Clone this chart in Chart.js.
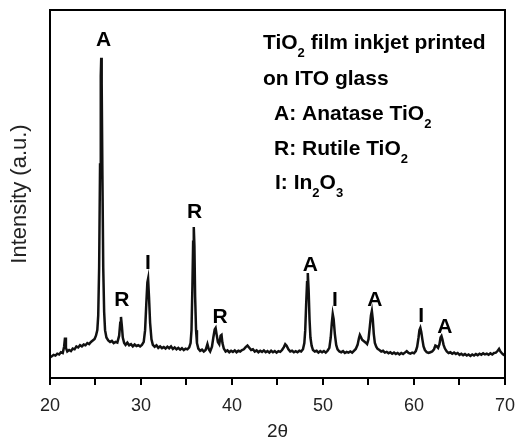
<!DOCTYPE html>
<html>
<head>
<meta charset="utf-8">
<script src="https://cdn.jsdelivr.net/npm/chart.js@4/dist/chart.umd.min.js"></script>
<style>
  html, body { margin: 0; padding: 0; background: #fff; }
  #wrap { width: 525px; height: 441px; }
</style>
</head>
<body>
<div id="wrap"><canvas id="myChart" width="525" height="441"></canvas></div>
<script>
// XRD pattern (2theta, intensity in a.u.)
const twoTheta = [
  20.0, 20.2, 20.4, 20.6, 20.8, 21.0, 21.2, 21.4, 21.55, 21.65, 21.75, 21.9, 22.1, 22.3, 22.5, 22.7, 22.9,
  23.1, 23.3, 23.5, 23.7, 23.9, 24.1, 24.3, 24.5, 24.7, 24.9, 25.05, 25.2, 25.3, 25.4, 25.5, 25.58, 25.63,
  25.68, 25.76, 25.85, 25.95, 26.05, 26.2, 26.4, 26.6, 26.8, 27.0, 27.2, 27.4, 27.6, 27.72, 27.8, 27.9,
  28.0, 28.15, 28.3, 28.5, 28.7, 28.9, 29.1, 29.3, 29.5, 29.7, 29.9, 30.1, 30.3, 30.45, 30.58, 30.7, 30.78,
  30.88, 31.0, 31.15, 31.3, 31.5, 31.7, 31.9, 32.1, 32.3, 32.5, 32.7, 32.9, 33.1, 33.3, 33.5, 33.7, 33.9,
  34.1, 34.3, 34.5, 34.7, 34.9, 35.1, 35.3, 35.45, 35.55, 35.65, 35.73, 35.8, 35.87, 35.95, 36.05, 36.15,
  36.3, 36.5, 36.7, 36.9, 37.1, 37.3, 37.45, 37.6, 37.8, 37.95, 38.1, 38.2, 38.3, 38.45, 38.6, 38.75, 38.85,
  38.95, 39.1, 39.3, 39.5, 39.7, 39.9, 40.1, 40.3, 40.5, 40.7, 40.9, 41.1, 41.3, 41.5, 41.7, 41.9, 42.1,
  42.3, 42.5, 42.7, 42.9, 43.1, 43.3, 43.5, 43.7, 43.9, 44.1, 44.3, 44.5, 44.7, 44.9, 45.1, 45.3, 45.5,
  45.7, 45.85, 46.0, 46.2, 46.4, 46.6, 46.8, 47.0, 47.2, 47.4, 47.6, 47.8, 47.95, 48.05, 48.15, 48.25,
  48.33, 48.42, 48.52, 48.62, 48.75, 48.9, 49.1, 49.3, 49.5, 49.7, 49.9, 50.1, 50.3, 50.5, 50.7, 50.85,
  50.97, 51.07, 51.17, 51.3, 51.45, 51.6, 51.8, 52.0, 52.2, 52.4, 52.6, 52.8, 53.0, 53.2, 53.4, 53.6, 53.8,
  53.95, 54.05, 54.15, 54.3, 54.5, 54.7, 54.85, 55.0, 55.15, 55.27, 55.37, 55.47, 55.58, 55.7, 55.85, 56.0,
  56.2, 56.4, 56.6, 56.8, 57.0, 57.2, 57.4, 57.6, 57.8, 58.0, 58.2, 58.4, 58.6, 58.8, 59.0, 59.2, 59.4,
  59.6, 59.8, 60.0, 60.2, 60.35, 60.5, 60.6, 60.7, 60.8, 60.92, 61.05, 61.2, 61.4, 61.6, 61.8, 62.0, 62.2,
  62.35, 62.5, 62.65, 62.8, 62.92, 63.02, 63.12, 63.25, 63.4, 63.6, 63.8, 64.0, 64.2, 64.4, 64.6, 64.8,
  65.0, 65.2, 65.4, 65.6, 65.8, 66.0, 66.2, 66.4, 66.6, 66.8, 67.0, 67.2, 67.4, 67.6, 67.8, 68.0, 68.2,
  68.4, 68.6, 68.8, 69.0, 69.2, 69.35, 69.5, 69.7, 69.85, 70.0
]
const intensity = [
  5.6, 5.9, 6.3, 6.1, 6.6, 6.4, 7.0, 6.8, 8.5, 11.0, 8.2, 7.2, 7.6, 7.3, 8.0, 7.8, 8.6,
  8.3, 8.9, 8.6, 9.1, 8.9, 9.5, 9.2, 9.8, 10.2, 10.6, 11.5, 13, 17, 30, 58, 82, 87,
  80, 55, 30, 18, 13, 11, 10.2, 9.8, 10.1, 9.5, 9.8, 9.6, 11.5, 15, 16.6, 14,
  11, 9.5, 9.0, 9.6, 8.9, 9.2, 8.6, 9.1, 8.7, 8.9, 8.6, 9.0, 9.8, 13, 20, 26, 27,
  22, 15, 10.5, 9.0, 8.5, 8.9, 8.2, 8.6, 8.1, 8.4, 8.0, 8.5, 8.1, 8.6, 7.9, 8.3, 7.8,
  8.2, 7.7, 8.1, 7.6, 8.0, 7.8, 8.3, 9.5, 13, 25, 37, 41, 36, 22, 13, 9.5,
  8.0, 7.4, 7.7, 7.2, 7.6, 9.2, 7.8, 7.2, 8.5, 11, 13.2, 13.6, 12, 9.8, 9.2, 11.5, 11.7,
  9.5, 8.0, 7.2, 7.5, 7.0, 7.4, 7.1, 7.5, 7.0, 7.4, 7.2, 7.6, 7.8, 8.4, 8.8, 8.2, 7.6,
  7.8, 7.2, 7.5, 7.0, 7.4, 7.1, 7.5, 7.0, 7.3, 6.9, 7.4, 7.0, 7.3, 6.9, 7.3, 7.1, 7.6,
  8.4, 9.2, 8.8, 7.8, 7.2, 7.4, 7.0, 7.3, 7.0, 7.4, 7.2, 7.8, 9.5, 13, 20, 26,
  28.5, 24, 16, 11, 8.8, 7.6, 7.2, 7.4, 6.9, 7.3, 7.0, 7.3, 6.9, 7.4, 8.2, 11,
  15, 17.4, 16, 12, 9, 7.8, 7.2, 7.0, 7.3, 6.8, 7.1, 6.9, 7.2, 6.9, 7.4, 7.9, 9.0,
  10.8, 11.7, 11.2, 10.4, 10.0, 9.6, 9.2, 10.5, 14, 17, 18.2, 16, 12, 9.5, 8.5, 7.9,
  7.6, 7.2, 7.4, 6.9, 7.1, 6.7, 7.0, 6.6, 6.9, 6.5, 6.8, 6.4, 6.8, 6.5, 6.9, 7.3, 6.8,
  6.6, 6.9, 6.7, 7.3, 8.5, 11, 13, 13.6, 12.5, 10.5, 8.6, 7.6, 7.0, 6.8, 7.0, 7.2, 7.8,
  8.8, 8.6, 8.2, 9.2, 11, 11.4, 10.5, 9.0, 8.0, 7.2, 6.8, 7.0, 6.6, 6.9, 6.5, 6.8,
  6.3, 6.6, 6.2, 6.5, 6.1, 6.4, 6.0, 6.4, 6.1, 6.5, 6.2, 6.6, 6.3, 6.7, 6.4, 6.6, 6.3,
  6.7, 6.4, 6.8, 6.9, 7.4, 7.9, 7.2, 6.6, 6.3, 6.4
]

// peak letters and where they sit (2theta, intensity)
const peakLabels = ['A', 'R', 'I', 'R', 'R', 'A', 'I', 'A', 'I', 'A']
const peakX = [25.9, 27.9, 30.75, 35.9, 38.7, 48.6, 51.3, 55.7, 60.8, 63.4]
const peakY = [91.7, 21.2, 31.3, 45.1, 16.6, 30.7, 21.2, 21.2, 16.8, 13.9]

const xTickLabels = ['20', '30', '40', '50', '60', '70']

// legend text, [text, subscript?]
const infoLines = [
  [['TiO', 0], ['2', 1], [' film inkjet printed', 0]],
  [['on ITO glass', 0]],
  [['A: Anatase TiO', 0], ['2', 1]],
  [['R: Rutile TiO', 0], ['2', 1]],
  [['I: In', 0], ['2', 1], ['O', 0], ['3', 1]]
]

const FONT = 'Arial, "Liberation Sans", sans-serif'

const points = twoTheta.map((x, i) => ({ x: x, y: intensity[i] }))

const extras = {
  id: 'extras',
  afterDraw(chart) {
    const ctx = chart.ctx
    const a = chart.chartArea
    const xs = chart.scales.x
    const ys = chart.scales.y
    ctx.save()
    // frame
    ctx.strokeStyle = '#000'
    ctx.lineWidth = 2
    ctx.strokeRect(a.left, a.top, a.right - a.left, a.bottom - a.top)

    // peak letters
    ctx.fillStyle = '#000'
    ctx.font = 'bold 21px ' + FONT
    ctx.textAlign = 'center'
    ctx.textBaseline = 'middle'
    peakLabels.forEach((t, i) => {
      ctx.fillText(t, xs.getPixelForValue(peakX[i]), ys.getPixelForValue(peakY[i]))
    })

    // legend block
    ctx.textAlign = 'left'
    ctx.textBaseline = 'alphabetic'
    const lineX = [263, 263, 274, 274, 275]
    const lineY = [49, 85, 120, 155, 189]
    infoLines.forEach((segs, i) => {
      let x = lineX[i]
      segs.forEach(([txt, sub]) => {
        ctx.font = sub ? 'bold 13px ' + FONT : 'bold 21px ' + FONT
        ctx.fillText(txt, x, lineY[i] + (sub ? 8 : 0))
        x += ctx.measureText(txt).width
      })
    })
    ctx.restore()
  }
}

const config = {
  type: 'line',
  data: {
    datasets: [{
      data: points,
      borderColor: '#111',
      borderWidth: 2.5,
      pointRadius: 0,
      tension: 0,
      fill: false
    }]
  },
  options: {
    responsive: false,
    animation: false,
    layout: { padding: { top: 10, right: 10, bottom: 0, left: 0 } },
    plugins: { legend: { display: false }, tooltip: { enabled: false } },
    scales: {
      x: {
        type: 'linear',
        min: 20,
        max: 70,
        border: { display: false },
        grid: { drawOnChartArea: false, drawTicks: true, tickLength: 7, color: '#000', lineWidth: 2 },
        ticks: {
          stepSize: 5,
          autoSkip: false,
          maxRotation: 0,
          padding: 10,
          color: '#222',
          font: { family: FONT, size: 18 },
          callback: (v) => (v % 10 === 0 ? xTickLabels[(v - 20) / 10] : '')
        },
        title: { display: true, text: '2θ', color: '#222', font: { family: FONT, size: 19, lineHeight: 1 }, padding: { top: 0, bottom: 0 } },
        afterFit: (s) => { s.height = 63 }
      },
      y: {
        min: 0,
        max: 100,
        border: { display: false },
        grid: { display: false },
        ticks: { display: false },
        title: { display: true, text: 'Intensity (a.u.)', color: '#222', font: { family: FONT, size: 22, lineHeight: 1.2 }, padding: { top: 7, bottom: 0 } },
        afterFit: (s) => { s.width = 50 }
      }
    }
  },
  plugins: [extras]
}

new Chart(document.getElementById('myChart'), config)
</script>
</body>
</html>
